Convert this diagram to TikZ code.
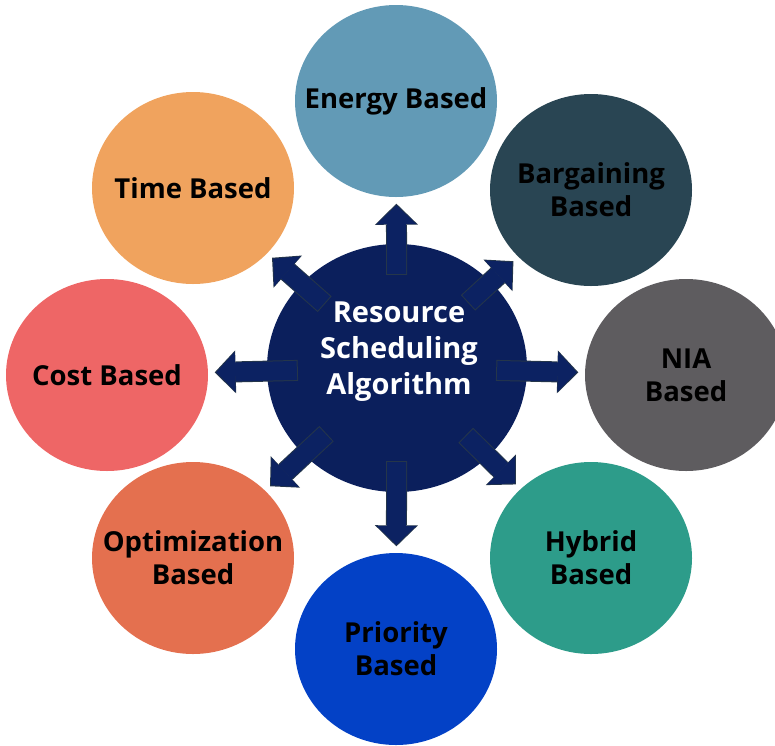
\documentclass[tikz,border=0pt]{standalone}
\usepackage{fontspec}
\setmainfont{Open Sans}
\usepackage{xcolor}
\definecolor{hubblue}{HTML}{0B1F5C}
\definecolor{arrowblue}{HTML}{0C2262}
\definecolor{arrowedge}{HTML}{25364A}
\definecolor{energyc}{HTML}{629AB6}
\definecolor{bargainc}{HTML}{294553}
\definecolor{niac}{HTML}{5E5C5F}
\definecolor{hybridc}{HTML}{2D9C8A}
\definecolor{priorityc}{HTML}{0341C6}
\definecolor{optimc}{HTML}{E4704F}
\definecolor{costc}{HTML}{EE6666}
\definecolor{timec}{HTML}{F0A35E}
\usetikzlibrary{shapes.geometric,arrows.meta}
\tikzset{
  blob/.style={ellipse, fill=#1, minimum width=202pt, minimum height=192pt, inner sep=0pt},
  lbl/.style={font=\fontsize{27.5}{33}\selectfont\bfseries, text=black, align=center},
  spoke/.style={draw=arrowblue, line width=19pt,
    -{Triangle[width=40pt,length=19pt,line width=0pt]},
    shorten <=-30pt, shorten >=8pt,
    preaction={draw=arrowedge, line width=21pt,
      -{Triangle[width=43pt,length=21pt,line width=0pt]},
      shorten <=-31pt, shorten >=6.5pt}}
}

\begin{document}
\begin{tikzpicture}[x=1pt, y=-1pt]
    \useasboundingbox (0,0) rectangle (775,745);
    % outer ring of categories
    \node[blob=energyc, label={[lbl]center:Energy Based}] (energy) at (396,101) {};
    \node[blob=bargainc, label={[lbl]center:{Bargaining\\Based}}] (bargain) at (591,190) {};
    \node[blob=niac, label={[lbl]center:{NIA\\Based}}] (nia) at (686,375) {};
    \node[blob=hybridc, label={[lbl]center:{Hybrid\\Based}}] (hybrid) at (591,558) {};
    \node[blob=priorityc, label={[lbl]center:{Priority\\Based}}] (priority) at (396,649) {};
    \node[blob=optimc, label={[lbl]center:{Optimization\\Based}}] (optim) at (193,558) {};
    \node[blob=costc, label={[lbl]center:Cost Based}] (cost) at (107,375) {};
    \node[blob=timec, label={[lbl]center:Time Based}] (time) at (193,188) {};
    % hub
    \node[blob=hubblue, minimum width=260pt, minimum height=248pt] (hub) at (397,368) {};
    \draw[spoke] (hub) -- (energy);
    \draw[spoke] (hub) -- (bargain);
    \draw[spoke] (hub) -- (nia);
    \draw[spoke] (hub) -- (hybrid);
    \draw[spoke] (hub) -- (priority);
    \draw[spoke] (hub) -- (optim);
    \draw[spoke] (hub) -- (cost);
    \draw[spoke] (hub) -- (time);
    \node[lbl, text=white, font=\fontsize{29}{36}\selectfont\bfseries] (hubtext) at (399,352) {Resource\\Scheduling\\Algorithm};
\end{tikzpicture}
\end{document}
